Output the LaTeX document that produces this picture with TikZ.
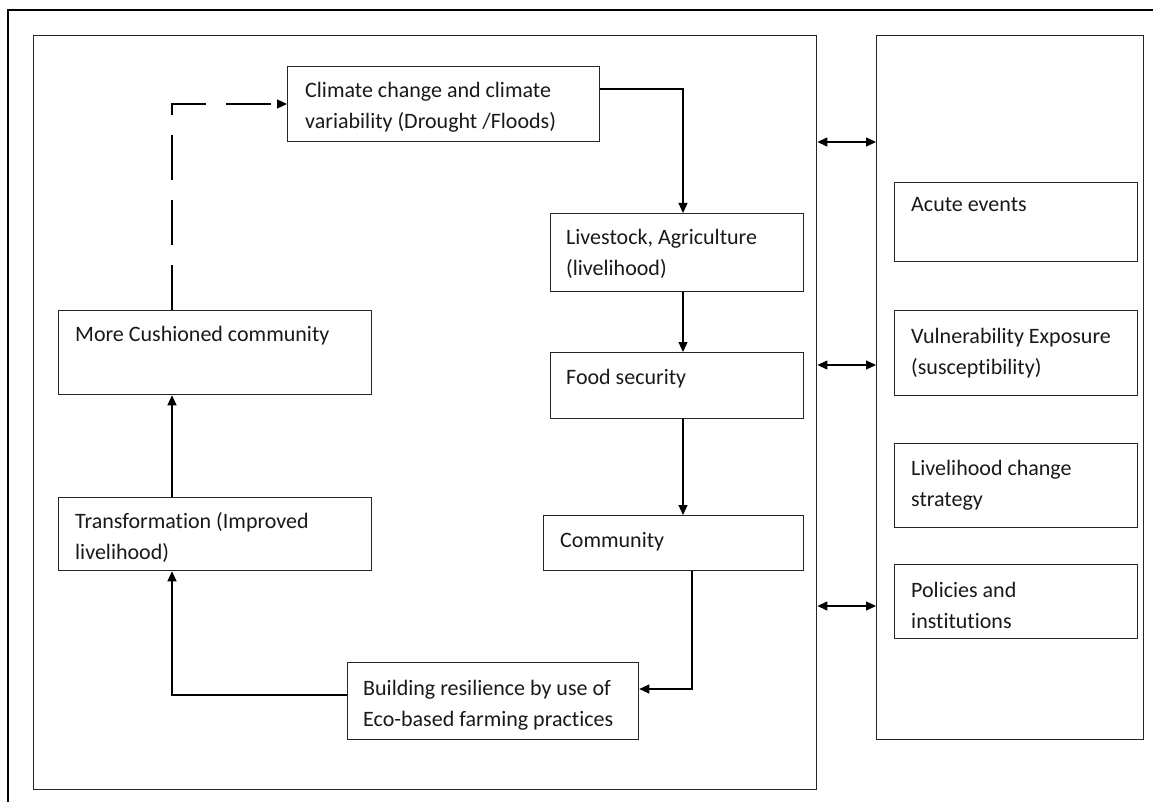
\documentclass[tikz,border=0pt]{standalone}
\usepackage{fontspec}
\setmainfont{Carlito}[Ligatures=NoCommon]
\usetikzlibrary{arrows.meta}
\begin{document}
\begin{tikzpicture}[x=1pt,y=-1pt,
  boxn/.style={draw=black!85,line width=1.3pt,rectangle,inner sep=0pt,anchor=north west},
  panel/.style={draw=black!85,line width=1.4pt,rectangle,inner sep=0pt,anchor=north west},
  txt/.style={anchor=base west,inner sep=0pt,align=left,font=\fontsize{22}{31}\selectfont,text=black!90},
  conn/.style={line width=1.2pt,-{Triangle[length=10pt,width=9pt]}},
  dconn/.style={line width=1.2pt,-{Triangle[length=10pt,width=9pt]},dash pattern=on 45pt off 20pt},
  biconn/.style={line width=1.2pt,{Triangle[length=10pt,width=9pt]}-{Triangle[length=10pt,width=9pt]}}
]
\useasboundingbox (0,0) rectangle (1153,802);
% outer frame (top and left edges visible)
\draw[line width=2.4pt] (8,802) -- (8,10) -- (1153,10);
% panels
\node[panel,minimum width=783pt,minimum height=754pt] (lp) at (33,35) {};
\node[panel,minimum width=267pt,minimum height=704pt] (rp) at (876,35) {};
% left panel boxes
\node[boxn,minimum width=312pt,minimum height=75pt] (clim) at (287,66) {};
\node[txt] (climt) at (305,129) {Climate change and climate\\variability (Drought /Floods)};
\node[boxn,minimum width=253pt,minimum height=78pt] (live) at (550,213) {};
\node[txt] (livet) at (566,276) {Livestock, Agriculture\\(livelihood)};
\node[boxn,minimum width=253pt,minimum height=66pt] (food) at (550,352) {};
\node[txt] (foodt) at (566,384) {Food security};
\node[boxn,minimum width=260pt,minimum height=55pt] (comm) at (543,515) {};
\node[txt] (commt) at (560,547) {Community};
\node[boxn,minimum width=291pt,minimum height=77pt] (build) at (347,662) {};
\node[txt] (buildt) at (363,726) {Building resilience by use of\\Eco-based farming practices};
\node[boxn,minimum width=313pt,minimum height=73pt] (trans) at (58,497) {};
\node[txt] (transt) at (75,559) {Transformation (Improved\\livelihood)};
\node[boxn,minimum width=313pt,minimum height=84pt] (more) at (58,310) {};
\node[txt] (moret) at (75,341) {More Cushioned community};
% right panel boxes
\node[boxn,minimum width=243pt,minimum height=79pt] (acute) at (894,182) {};
\node[txt] (acutet) at (911,212) {Acute events};
\node[boxn,minimum width=243pt,minimum height=85pt] (vuln) at (894,310) {};
\node[txt] (vulnt) at (911,374) {Vulnerability Exposure\\(susceptibility)};
\node[boxn,minimum width=243pt,minimum height=84pt] (lcs) at (894,443) {};
\node[txt] (lcst) at (911,506) {Livelihood change\\strategy};
\node[boxn,minimum width=243pt,minimum height=74pt] (pol) at (894,564) {};
\node[txt] (polt) at (911,628) {Policies and\\institutions};
% connectors
\draw[conn] ([yshift=-23pt]clim.north east) -| ([xshift=133pt]live.north west);
\draw[conn] ([xshift=133pt]live.south west) -- ([xshift=133pt]food.north west);
\draw[conn] ([xshift=133pt]food.south west) -- ([xshift=140pt]comm.north west);
\draw[conn] ([xshift=149pt]comm.south west) |- ([yshift=-27pt]build.north east);
\draw[conn] ([yshift=-33pt]build.north west) -| ([xshift=114pt]trans.south west);
\draw[conn] ([xshift=114pt]trans.north west) -- ([xshift=114pt]more.south west);
\draw[dconn] ([xshift=114pt]more.north west) |- ([yshift=-38pt]clim.north west);
% links between panels
\draw[biconn] ([yshift=-107pt]lp.north east) -- ([yshift=-107pt]rp.north west);
\draw[biconn] ([yshift=-330pt]lp.north east) -- ([yshift=-330pt]rp.north west);
\draw[biconn] ([yshift=-571pt]lp.north east) -- ([yshift=-571pt]rp.north west);
\end{tikzpicture}
\end{document}
